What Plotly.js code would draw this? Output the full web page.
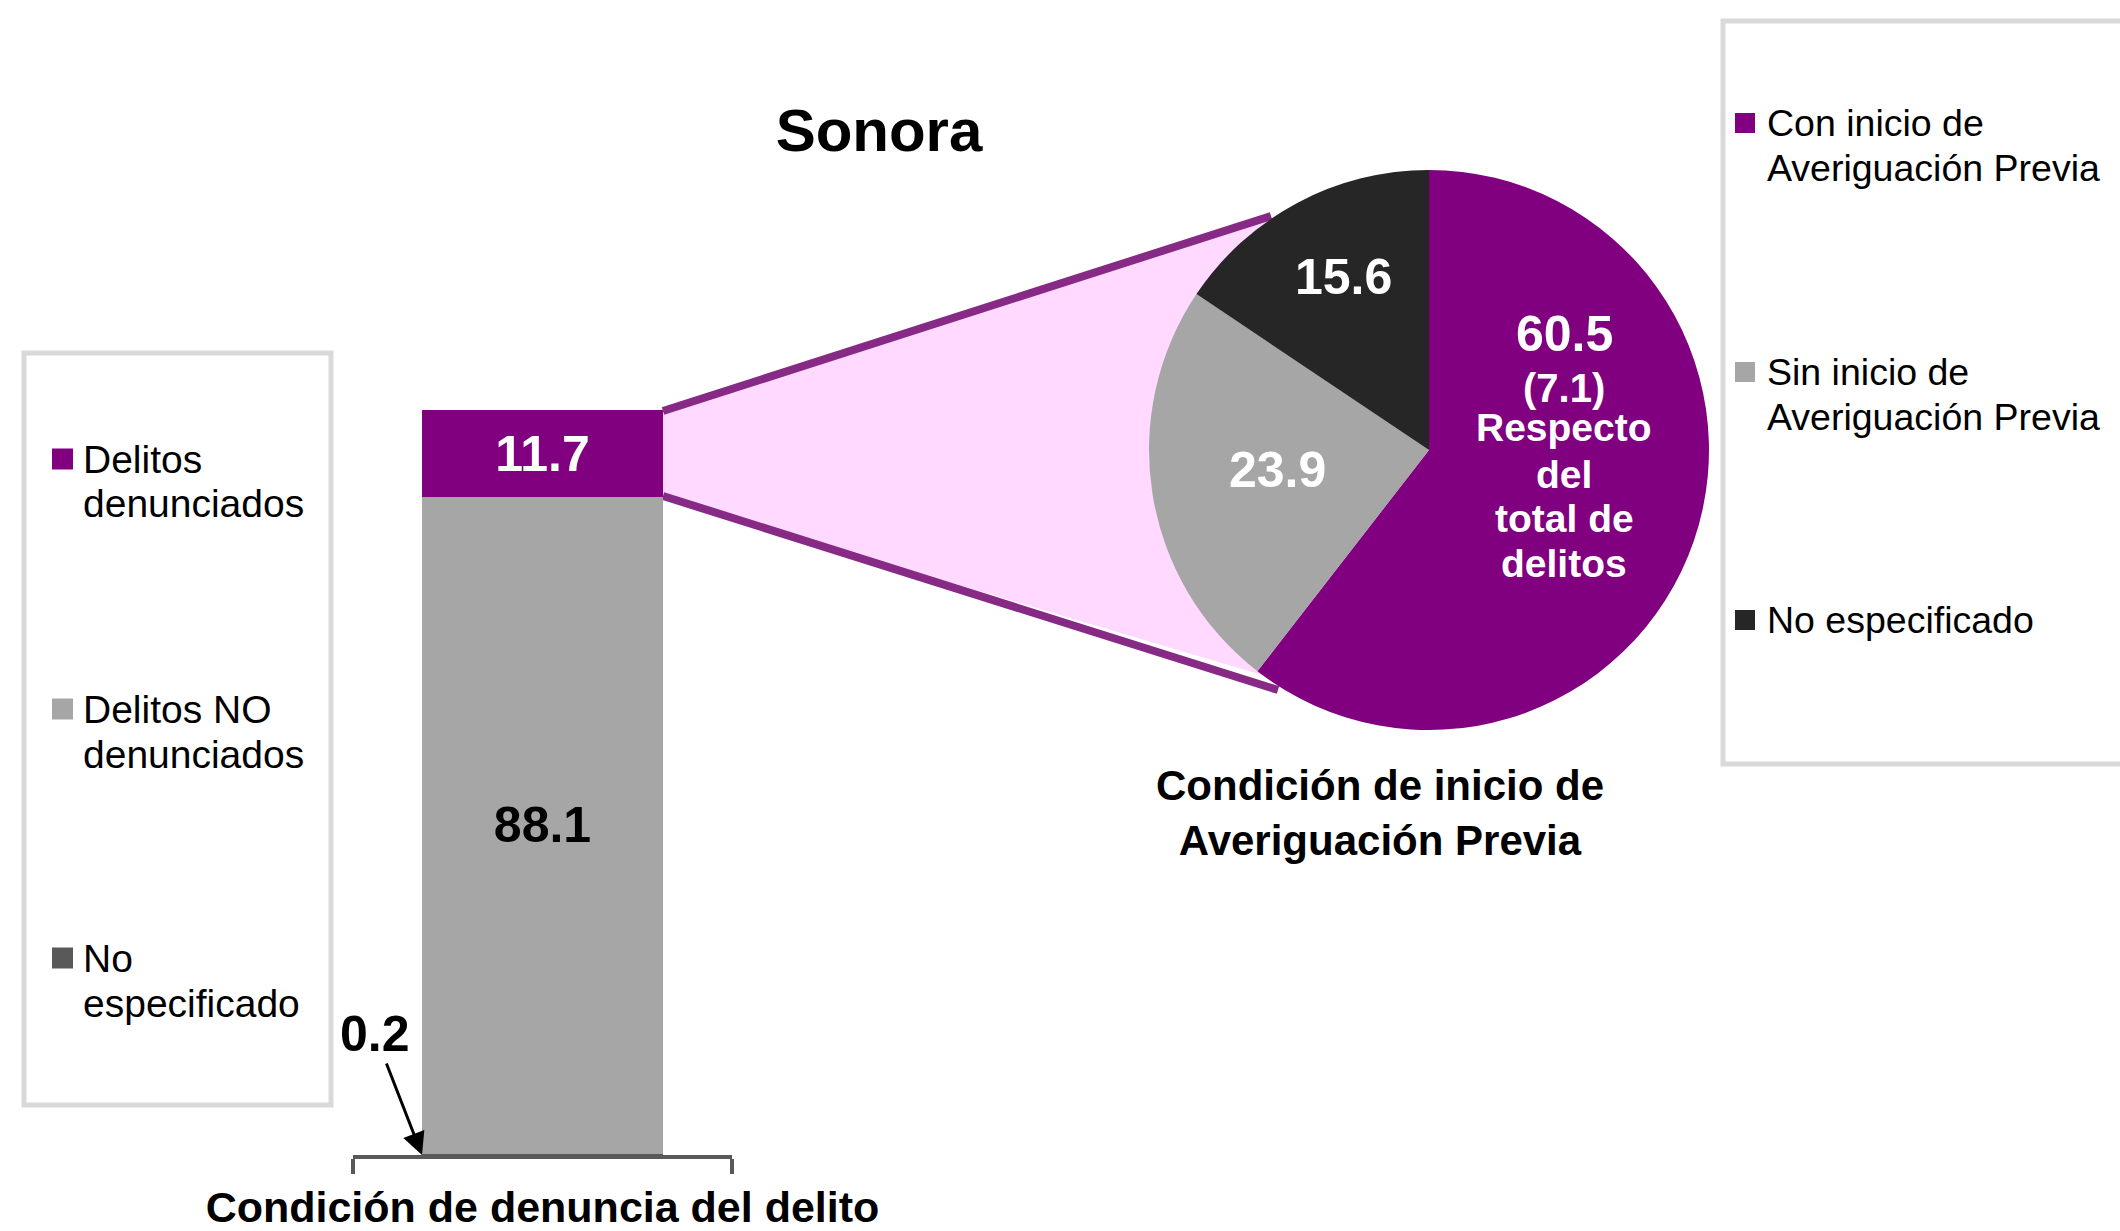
<!DOCTYPE html>
<html>
<head>
<meta charset="utf-8">
<script src="https://cdn.plot.ly/plotly-3.0.1.min.js"></script>
<style>html,body{margin:0;padding:0;background:#fff;}#chart{width:2120px;height:1231px;}</style>
</head>
<body>
<div id="chart"></div>
<script>
// ---------- data ----------
const chartTitle = 'Sonora';
const barCategory = ['Condición de denuncia del delito'];
const barSeries = ['No especificado', 'Delitos NO denunciados', 'Delitos denunciados'];
const barValues = [0.2, 88.1, 11.7];
const barLegendLabels = ['Delitos<br>denunciados', 'Delitos NO<br>denunciados', 'No<br>especificado'];
const pieTitle = 'Condición de inicio de<br>Averiguación Previa';
const pieLabels = ['Con inicio de Averiguación Previa', 'Sin inicio de Averiguación Previa', 'No especificado'];
const pieValues = [60.5, 23.9, 15.6];
const pieShareOfTotal = [7.1];
const pieNote = ['Respecto', 'del', 'total de', 'delitos'];
const pieLegendLabels = ['Con inicio de<br>Averiguación Previa', 'Sin inicio de<br>Averiguación Previa', 'No especificado'];

// ---------- styles ----------
const W = 2120, H = 1231;
const px = x => x / W;
const py = y => 1 - y / H;
const FONT = 'Liberation Sans, Arial, sans-serif';
const barColors = ['#595959', '#A6A6A6', '#800080'];
const barTextColors = ['#000000', '#000000', '#FFFFFF'];
const barLegendColors = ['#800080', '#A6A6A6', '#595959'];
const pieColors = ['#800080', '#A6A6A6', '#262626'];
const BAR_WIDTH = 0.636;

// ---------- traces ----------
const traces = barSeries.map((name, i) => ({
  type: 'bar',
  x: barCategory,
  y: [barValues[i]],
  name: name,
  width: BAR_WIDTH,
  marker: {color: barColors[i], line: {width: 0}},
  text: [barValues[i].toFixed(1)],
  textposition: i === 0 ? 'none' : 'inside',
  insidetextanchor: 'middle',
  textangle: 0,
  textfont: {family: FONT, size: 50, weight: 700, color: barTextColors[i]},
  showlegend: false,
  hoverinfo: 'name+y'
}));

const pieCx = 1429, pieCy = 450, pieR = 280;
traces.push({
  type: 'pie',
  labels: pieLabels,
  values: pieValues,
  sort: false,
  direction: 'clockwise',
  rotation: 0,
  textinfo: 'none',
  marker: {colors: pieColors, line: {width: 0}},
  domain: {x: [px(pieCx - pieR), px(pieCx + pieR)], y: [py(pieCy + pieR), py(pieCy - pieR)]},
  showlegend: false,
  hoverinfo: 'label+value'
});

// ---------- connector + legend boxes ----------
const shapes = [];
const P = (x, y) => px(x) + ',' + py(y);
shapes.push({type: 'path', xref: 'paper', yref: 'paper', layer: 'below',
  path: 'M' + P(663, 410) + 'L' + P(1271, 216) + 'L' + P(pieCx, pieCy) + 'L' + P(1262, 675) + 'L' + P(663, 497) + 'Z',
  fillcolor: '#FFD9FF', line: {width: 0}});
shapes.push({type: 'line', xref: 'paper', yref: 'paper', layer: 'below',
  x0: px(663), y0: py(411), x1: px(1271), y1: py(216), line: {color: '#862A86', width: 8}});
shapes.push({type: 'line', xref: 'paper', yref: 'paper', layer: 'below',
  x0: px(663), y0: py(496), x1: px(1278), y1: py(690), line: {color: '#862A86', width: 8}});
// legend frames
shapes.push({type: 'rect', xref: 'paper', yref: 'paper', layer: 'below',
  x0: px(24), y0: py(1105), x1: px(331), y1: py(353), line: {color: '#D9D9D9', width: 5}, fillcolor: '#FFFFFF'});
shapes.push({type: 'rect', xref: 'paper', yref: 'paper', layer: 'below',
  x0: px(1723), y0: py(764), x1: px(2130), y1: py(21), line: {color: '#D9D9D9', width: 5}, fillcolor: '#FFFFFF'});

const annotations = [];
function legendBlock(labels, colors, mx0, mSize, tx, firstCenters, fontSize) {
  labels.forEach((lab, i) => {
    const c = firstCenters[i];
    shapes.push({type: 'rect', xref: 'paper', yref: 'paper', layer: 'above',
      x0: px(mx0), x1: px(mx0 + mSize), y0: py(c + mSize / 2), y1: py(c - mSize / 2),
      fillcolor: colors[i], line: {width: 0}});
    lab.split('<br>').forEach((line, k) => {
      annotations.push({xref: 'paper', yref: 'paper', x: px(tx), y: py(c + k * 45),
        xanchor: 'left', yanchor: 'middle', showarrow: false, text: line,
        font: {family: FONT, size: fontSize, color: '#000000'}});
    });
  });
}
legendBlock(barLegendLabels, barLegendColors, 52, 21, 81, [459, 709, 958], 39);
legendBlock(pieLegendLabels, pieColors, 1735, 20, 1765, [123, 372, 620], 37.5);

function centered(x, y, text, size, color) {
  return {xref: 'paper', yref: 'paper', x: px(x), y: py(y), xanchor: 'center', yanchor: 'middle',
    showarrow: false, text: text, font: {family: FONT, size: size, weight: 700, color: color}};
}
// pie labels
annotations.push(centered(1343, 277, pieValues[2].toFixed(1), 50, '#FFFFFF'));
annotations.push(centered(1277, 470, pieValues[1].toFixed(1), 50, '#FFFFFF'));
const purpleLines = [pieValues[0].toFixed(1), '(' + pieShareOfTotal[0].toFixed(1) + ')'].concat(pieNote);
const purpleCenters = [334, 388, 428, 474, 518, 563];
const purpleSizes = [50, 40, 39, 39, 39, 39];
purpleLines.forEach((t, i) => annotations.push(centered(1564, purpleCenters[i], t, purpleSizes[i], '#FFFFFF')));
// pie title
annotations.push(centered(1380, 813, pieTitle, 42, '#000000'));
// 0.2 callout
annotations.push({xref: 'x', yref: 'y', x: -BAR_WIDTH / 2, y: 0, ax: -47, ay: -121,
  showarrow: true, arrowhead: 2, arrowsize: 1.5, arrowwidth: 3, arrowcolor: '#000000',
  text: barValues[0].toFixed(1), font: {family: FONT, size: 50, weight: 700, color: '#000000'}});

const layout = {
  width: W, height: H,
  margin: {l: 0, r: 0, t: 0, b: 0},
  paper_bgcolor: '#FFFFFF', plot_bgcolor: 'rgba(0,0,0,0)',
  font: {family: FONT, color: '#000000'},
  barmode: 'stack',
  title: {text: chartTitle, x: px(879), y: py(130), xanchor: 'center', yanchor: 'middle',
    font: {family: FONT, size: 60, weight: 700, color: '#000000'}},
  xaxis: {domain: [px(353), px(732)], type: 'category', range: [-0.5, 0.5],
    showline: true, linecolor: '#595959', linewidth: 4,
    ticks: 'outside', tickson: 'boundaries', ticklen: 15, tickwidth: 4, tickcolor: '#595959',
    showticklabels: false, showgrid: false, zeroline: false, fixedrange: true,
    title: {text: barCategory[0], standoff: 36, font: {family: FONT, size: 43, weight: 700, color: '#000000'}}},
  yaxis: {domain: [py(1155), py(410)], range: [0, 100], visible: false, fixedrange: true},
  shapes: shapes,
  annotations: annotations,
  showlegend: false
};

Plotly.newPlot('chart', traces, layout, {displayModeBar: false, staticPlot: true});
</script>
</body>
</html>
